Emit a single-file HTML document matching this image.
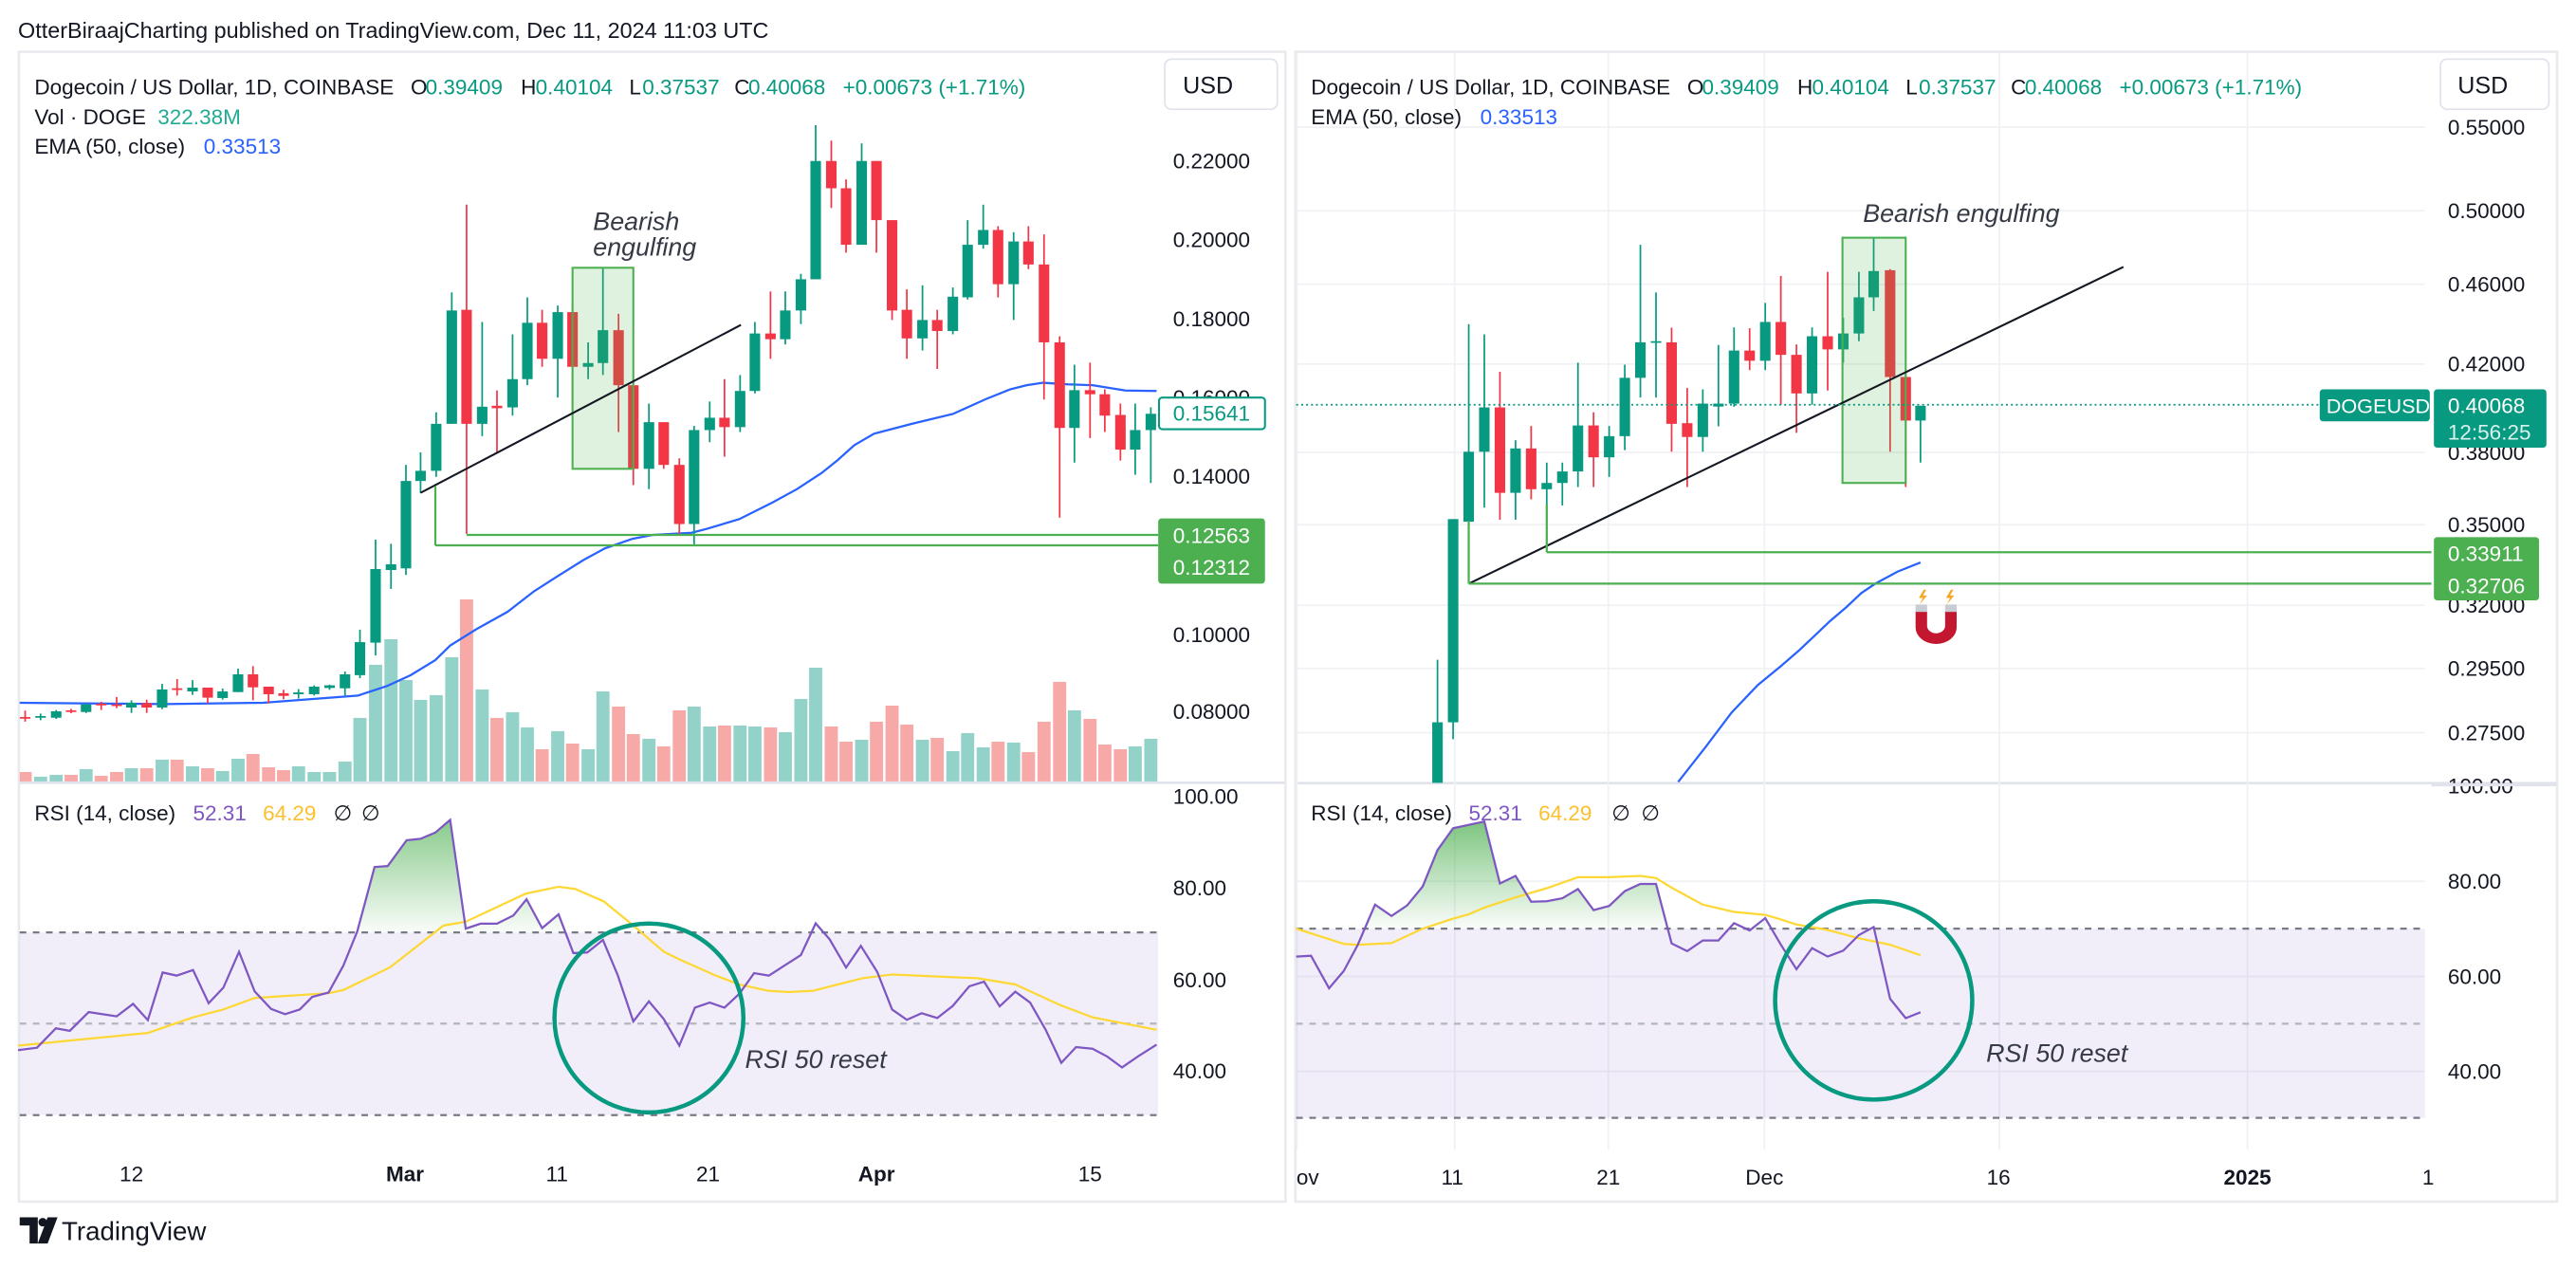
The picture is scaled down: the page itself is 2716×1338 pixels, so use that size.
<!DOCTYPE html>
<html><head><meta charset="utf-8"><style>
html,body{margin:0;padding:0;background:#fff}
svg{display:block}
text{font-family:"Liberation Sans",sans-serif}
</style></head><body>
<svg id="s" width="2716" height="1338" viewBox="0 0 1568 772.5" preserveAspectRatio="none" xmlns="http://www.w3.org/2000/svg">
<defs>
<linearGradient id="gl" x1="0" y1="490" x2="0" y2="568" gradientUnits="userSpaceOnUse"><stop offset="0" stop-color="#4caf50" stop-opacity="0.75"/><stop offset="1" stop-color="#4caf50" stop-opacity="0.03"/></linearGradient>
<linearGradient id="gr" x1="0" y1="498" x2="0" y2="565" gradientUnits="userSpaceOnUse"><stop offset="0" stop-color="#4caf50" stop-opacity="0.75"/><stop offset="1" stop-color="#4caf50" stop-opacity="0.03"/></linearGradient>
<clipPath id="cpl"><rect x="12" y="32" width="693" height="444"/></clipPath>
<clipPath id="cpr"><rect x="789" y="32" width="687" height="444.5"/></clipPath>
<clipPath id="cl70"><rect x="12" y="470" width="693" height="97.6"/></clipPath>
<clipPath id="cr70"><rect x="789" y="470" width="687" height="95.3"/></clipPath>
</defs>
<rect width="1568" height="772.5" fill="#fff"/>
<text x="11" y="23" font-size="13.5" fill="#131722">OtterBiraajCharting published on TradingView.com, Dec 11, 2024 11:03 UTC</text>
<!-- panel borders -->
<rect x="11.5" y="31.5" width="771" height="700" fill="none" stroke="#e9eaee" stroke-width="1.5"/>
<rect x="788.5" y="31.5" width="768" height="700" fill="none" stroke="#e9eaee" stroke-width="1.5"/>
<line x1="12" y1="476.5" x2="782" y2="476.5" stroke="#e0e3eb" stroke-width="1.5"/>
<line x1="789" y1="476.7" x2="1556" y2="476.7" stroke="#e0e3eb" stroke-width="1.5"/>
<g id="rgrid" stroke="#f0f1f4" stroke-width="1"></g>
<!-- RSI bands -->
<rect x="12" y="567.6" width="693" height="111.2" fill="#7e57c2" fill-opacity="0.1"/>
<rect x="789" y="565.3" width="687" height="115.2" fill="#7e57c2" fill-opacity="0.1"/>
<g stroke="#787b86" stroke-width="1.3" stroke-dasharray="4,4">
<line x1="12" y1="567.6" x2="705" y2="567.6"/><line x1="12" y1="678.8" x2="705" y2="678.8"/>
<line x1="789" y1="565.3" x2="1476" y2="565.3"/><line x1="789" y1="680.5" x2="1476" y2="680.5"/>
</g>
<g stroke="#b2b5be" stroke-width="1.3" stroke-dasharray="4,4">
<line x1="12" y1="623.1" x2="705" y2="623.1"/><line x1="789" y1="623.2" x2="1476" y2="623.2"/>
</g>
<g id="dyn"></g>
<!-- annotations left -->
<rect x="348.5" y="163" width="37" height="122.4" fill="#4caf50" fill-opacity="0.18" stroke="#4caf50" stroke-width="1.2"/>
<line x1="256" y1="300" x2="451" y2="197.8" stroke="#131722" stroke-width="1.2"/>
<g stroke="#4caf50" stroke-width="1.3">
<line x1="284" y1="325.6" x2="705" y2="325.6"/><line x1="265" y1="332" x2="705" y2="332"/>
<line x1="265" y1="296" x2="265" y2="332"/>
</g>
<text x="361" y="140" font-size="15.5" font-style="italic" fill="#363a45">Bearish</text>
<text x="361" y="155.5" font-size="15.5" font-style="italic" fill="#363a45">engulfing</text>
<!-- annotations right -->
<rect x="1121.5" y="144.7" width="38.5" height="149.3" fill="#4caf50" fill-opacity="0.18" stroke="#4caf50" stroke-width="1.2"/>
<line x1="894" y1="355.3" x2="1292.5" y2="162.5" stroke="#131722" stroke-width="1.2"/>
<g stroke="#4caf50" stroke-width="1.3">
<line x1="941.5" y1="336.2" x2="1480" y2="336.2"/><line x1="894" y1="355.3" x2="1480" y2="355.3"/>
<line x1="941.5" y1="307" x2="941.5" y2="336.2"/><line x1="894" y1="317" x2="894" y2="355.3"/>
</g>
<line x1="789" y1="246.4" x2="1412" y2="246.4" stroke="#089981" stroke-width="1" stroke-dasharray="1.2,1.8"/>
<text x="1134" y="135" font-size="15.5" font-style="italic" fill="#363a45">Bearish engulfing</text>
<!-- magnet -->
<path d="M1166 372 L1166 382 A12.5 10 0 0 0 1191 382 L1191 372 L1184 372 L1184 381 A5.5 4.5 0 0 1 1173 381 L1173 372 Z" fill="#c2172f"/>
<rect x="1166" y="368" width="7" height="4.5" fill="#c8ccd3"/><rect x="1184" y="368" width="7" height="4.5" fill="#c8ccd3"/>
<path d="M1171 359 L1168 364 L1170.5 364 L1168.5 368 L1173 362.5 L1170.5 362.5 L1172.5 359Z" fill="#f5a623"/>
<path d="M1187.5 359 L1184.5 364 L1187 364 L1185 368 L1189.5 362.5 L1187 362.5 L1189 359Z" fill="#f5a623"/>
<!-- circles -->
<circle cx="395" cy="619.7" r="57.5" fill="none" stroke="#089981" stroke-width="2.6"/>
<ellipse cx="1140.5" cy="609" rx="60" ry="60.4" fill="none" stroke="#089981" stroke-width="2.6"/>
<text x="453.5" y="650" font-size="15.5" font-style="italic" fill="#363a45">RSI 50 reset</text>
<text x="1209" y="646.5" font-size="15.5" font-style="italic" fill="#363a45">RSI 50 reset</text>
<!-- legends -->
<g font-size="13" fill="#131722">
<text x="21" y="57.5">Dogecoin / US Dollar, 1D, COINBASE<tspan x="250">O</tspan><tspan x="259" fill="#089981">0.39409</tspan><tspan x="317">H</tspan><tspan x="326" fill="#089981">0.40104</tspan><tspan x="383">L</tspan><tspan x="391" fill="#089981">0.37537</tspan><tspan x="447">C</tspan><tspan x="455.5" fill="#089981">0.40068</tspan><tspan x="513" fill="#089981">+0.00673 (+1.71%)</tspan></text>
<text x="21" y="75.5">Vol · DOGE<tspan x="96" fill="#22ab94">322.38M</tspan></text>
<text x="21" y="93.5">EMA (50, close)<tspan x="124" fill="#2962ff">0.33513</tspan></text>
<text x="798" y="57.5">Dogecoin / US Dollar, 1D, COINBASE<tspan x="1027">O</tspan><tspan x="1036" fill="#089981">0.39409</tspan><tspan x="1094">H</tspan><tspan x="1103" fill="#089981">0.40104</tspan><tspan x="1160">L</tspan><tspan x="1168" fill="#089981">0.37537</tspan><tspan x="1224">C</tspan><tspan x="1232.5" fill="#089981">0.40068</tspan><tspan x="1290" fill="#089981">+0.00673 (+1.71%)</tspan></text>
<text x="798" y="75.5">EMA (50, close)<tspan x="901" fill="#2962ff">0.33513</tspan></text>
<text x="21" y="499.5">RSI (14, close)<tspan x="117.5" fill="#7e57c2">52.31</tspan><tspan x="160" fill="#fbc02d">64.29</tspan><tspan x="203">∅</tspan><tspan x="220">∅</tspan></text>
<text x="798" y="499.5">RSI (14, close)<tspan x="894" fill="#7e57c2">52.31</tspan><tspan x="936.5" fill="#fbc02d">64.29</tspan><tspan x="981">∅</tspan><tspan x="999">∅</tspan></text>
</g>
<!-- USD buttons -->
<rect x="709" y="36" width="68.5" height="30.5" rx="4" fill="#fff" stroke="#e0e3eb"/>
<text x="720" y="57" font-size="14.5" fill="#131722">USD</text>
<rect x="1485.5" y="36" width="66" height="30.5" rx="4" fill="#fff" stroke="#e0e3eb"/>
<text x="1496" y="57" font-size="14.5" fill="#131722">USD</text>
<!-- axis labels -->
<g font-size="13" fill="#131722">
<text x="714" y="102.5">0.22000</text><text x="714" y="150.5">0.20000</text><text x="714" y="198.5">0.18000</text><text x="714" y="246.5">0.16000</text><text x="714" y="294.5">0.14000</text><text x="714" y="391">0.10000</text><text x="714" y="437.5">0.08000</text>
<text x="714" y="489.3">100.00</text><text x="714" y="545">80.00</text><text x="714" y="601">60.00</text><text x="714" y="656.5">40.00</text>
<text x="1490" y="82">0.55000</text><text x="1490" y="132.8">0.50000</text><text x="1490" y="177.5">0.46000</text><text x="1490" y="226">0.42000</text><text x="1490" y="280">0.38000</text><text x="1490" y="324">0.35000</text><text x="1490" y="373">0.32000</text><text x="1490" y="411.5">0.29500</text><text x="1490" y="450.5">0.27500</text>
<text x="1490" y="483">100.00</text><text x="1490" y="541">80.00</text><text x="1490" y="599">60.00</text><text x="1490" y="656.7">40.00</text>
</g>
<rect x="1480" y="476.7" width="76" height="2" fill="#e0e3eb"/>
<!-- price labels -->
<rect x="705.5" y="242" width="64.5" height="19.3" rx="2" fill="#fff" stroke="#089981" stroke-width="1.2"/>
<text x="714" y="256" font-size="13" fill="#089981">0.15641</text>
<rect x="705" y="315.6" width="65" height="39.7" rx="2" fill="#4caf50"/>
<text x="714" y="330.5" font-size="13" fill="#fff">0.12563</text>
<text x="714" y="350" font-size="13" fill="#fff">0.12312</text>
<rect x="1412" y="237" width="67" height="19.5" rx="2" fill="#089981"/>
<text x="1416" y="251.5" font-size="12.5" fill="#fff">DOGEUSD</text>
<rect x="1481.5" y="237" width="68.5" height="35.5" rx="2" fill="#089981"/>
<text x="1490" y="251.5" font-size="13" fill="#fff">0.40068</text>
<text x="1490" y="267.5" font-size="13" fill="#fff" fill-opacity="0.85">12:56:25</text>
<rect x="1481.5" y="327" width="64" height="38.5" rx="2" fill="#4caf50"/>
<text x="1490" y="341.5" font-size="13" fill="#fff">0.33911</text>
<text x="1490" y="361" font-size="13" fill="#fff">0.32706</text>
<!-- time axis -->
<g font-size="13" fill="#131722" text-anchor="middle">
<text x="80" y="719">12</text><text x="246.5" y="719" font-weight="bold">Mar</text><text x="339" y="719">11</text><text x="431" y="719">21</text><text x="533.5" y="719" font-weight="bold">Apr</text><text x="663.5" y="719">15</text>
<text x="796" y="721">ov</text><text x="884" y="721">11</text><text x="979" y="721">21</text><text x="1074" y="721">Dec</text><text x="1216.5" y="721">16</text><text x="1368" y="721" font-weight="bold">2025</text><text x="1478" y="721">1</text>
</g>
<!-- footer -->
<path d="M12 741 H23 V757 H18 V746 H12 Z" fill="#131722"/><circle cx="26" cy="744" r="2.6" fill="#131722"/><path d="M29 741 H35 L29 757 H23 Z" fill="#131722"/>
<text x="37.5" y="755" font-size="16" fill="#131722">TradingView</text>
</svg>
<script>
(function(){
var NS="http://www.w3.org/2000/svg",dyn=document.getElementById("dyn");
function el(t,a,p){var e=document.createElementNS(NS,t);for(var k in a)e.setAttribute(k,a[k]);(p||dyn).appendChild(e);return e;}
var G="#089981",R="#f23645";
// right grid
var rg=document.getElementById("rgrid");
[789.5,885.5,979,1074,1217,1368].forEach(function(x){el("line",{x1:x,y1:32,x2:x,y2:700},rg);});
[77.4,128.3,173,221.6,275.4,319.4,368.5,407,446,536.5,594.4,652.2].forEach(function(y){el("line",{x1:789,y1:y,x2:1476,y2:y},rg);});
// left volume
var vol=[[15.3,762,0],[24.7,777,1],[34.2,771,1],[43.3,771,0],[52.4,753,1],[61.6,774,0],[71,762,0],[80,750,1],[89.3,750,0],[98.7,723,1],[107.8,723,0],[117.2,744,1],[126.4,750,0],[135.5,759,1],[144.9,720,1],[154,705,0],[163.5,747,0],[172.6,756,0],[181.7,744,1],[191.2,762,1],[200.6,762,1],[210,729,1],[219.1,591,1],[228.6,423,1],[238,342,1],[247.1,471,1],[256,534,1],[265.5,519,1],[275,399,1],[284,216,0],[293.5,501,1],[302.5,591,0],[312,573,1],[321,621,1],[330,690,0],[339.5,633,1],[348.5,672,0],[358,690,1],[367,507,1],[376.5,555,0],[385.5,642,0],[395,657,1],[404,681,0],[413.5,567,0],[422.5,555,1],[432,618,1],[441,615,0],[450.5,615,1],[459.5,618,1],[469,621,0],[478,636,1],[487.5,531,1],[496.5,432,1],[506,618,0],[515,666,0],[524.5,660,1],[533.5,603,0],[543,552,0],[552,612,0],[561.5,660,1],[570.5,654,0],[580,696,1],[589,639,1],[598.5,684,1],[607.5,666,0],[617,669,1],[626,699,0],[635.5,603,0],[645,477,0],[654,567,1],[663.5,594,0],[672.5,675,0],[682,690,0],[691,681,1],[700.5,657,1]];
var gl=el("g",{"clip-path":"url(#cpl)"});
vol.forEach(function(v){var y=323.3+v[1]/5.196;el("rect",{x:v[0]-4,y:y,width:8,height:475.7-y,fill:v[2]?"#92d2c8":"#f7a9a7"},gl);});
// EMA left
el("polyline",{points:"11.8,427.8 100,428.6 160,427.8 218,423.4 235.6,417.6 250,411 265,401.8 274,393 290,383 309,372.4 325,360 338.7,351.2 355,341 368,333.9 385,328 397.6,325.6 421,324.3 430,322 450,316 470,306 485,297.8 500,288 510,280 520,271 532,264 555,258 580,252 600,243 615,237 625,234.5 635,233 650,234 665,234.5 685,237.7 704,238",fill:"none",stroke:"#2962ff","stroke-width":1.3},gl);
function candles(arr,par){arr.forEach(function(c){var col=c[5]?G:R;el("line",{x1:c[0],y1:c[3],x2:c[0],y2:c[4],stroke:col,"stroke-width":1},par);el("rect",{x:c[0]-3.2,y:c[1],width:6.4,height:Math.max(c[2]-c[1],1),fill:col},par);});}
var L=[[15.3,436.5,437.4,432.6,439.3,0],[24.7,435.9,436.7,434.4,438.4,1],[34.2,433,436.9,432.2,437.6,1],[43.3,432.4,433.4,431.5,434.2,0],[52.4,428.8,433.4,428,434,1],[61.6,428.4,429.2,427.2,432.2,0],[71,428.8,429.7,424.3,431.1,0],[80,427.8,430.7,426.3,434,1],[89.3,428,430.7,425.9,434,0],[98.7,419.7,430.7,416.3,431.7,1],[107.8,419,420,413.4,423.4,0],[117.2,418.6,420.9,414,423,1],[126.4,418.6,424.7,418.6,428.2,0],[135.5,420.9,424.9,419.1,425.9,1],[144.9,410.5,421.3,407,421.3,1],[154,410.5,418.4,405.5,426.3,0],[163.5,418,422.6,418,428.2,0],[172.6,422,423.6,419.9,425.7,0],[181.7,421.5,422.6,419.5,425.3,1],[191.2,418,422.6,417.2,423.4,1],[200.6,417.2,418.8,416.8,419.9,1],[210,410.5,419,408.8,423.4,1],[219.1,390.9,411,383.3,412.8,1],[228.6,346.4,391.2,328.5,399,1],[238,343.5,347,331,358.5,1],[247.1,292.8,346,283,350,1],
[256,286.6,292.8,275.4,300.2,1],[265.5,258,286.6,251,290.3,1],[275,189,258,178,258,1],[284,188.6,258,124.6,325,0],[293.5,247.6,258,196,265.5,1],[302.5,247,248.5,237.7,275.4,0],[312,230.8,248,203.5,253,1],[321,196.5,230.8,181,234.5,1],[330,196.5,218.4,188.6,223.3,0],[339.5,190,218.4,186,242,1],[348.5,190,223.3,186,248,0],[358,221,223.3,208.4,230.8,1],[367,201,221,163,228.3,1],[376.5,201,234.5,191,263,0],[385.5,234.5,285.4,230.8,295.3,0],[395,257,285.4,245.7,297.8,1],[404,257,283,257,285.4,0],[413.5,283,319,279,325,0],[422.5,261.8,319,259.3,331.3,1],[432,254.3,261.8,244.4,269.2,1],[441,254.3,260,230.8,278,0],[450.5,238,260,228.3,263,1],[459.5,203,238,196,239.5,1],[469,203,206.5,177.4,218.4,0],[478,189,206.5,177.4,209.7,1],[487.5,170,189,166.7,197.3,1],[496.5,98,170,76.2,170,1],[506,98,114.6,85.6,126.6,0],[515,114.6,149,109.2,153.8,0],[524.5,98,149,87.3,149,1],[533.5,98,134,98,153.8,0],[543,134,189,134,194.8,0],[552,188.6,206,176.2,218.4,0],[561.5,194.8,206,173.7,213.4,1],[570.5,194.8,201.5,188.6,224.6,0],[580,180.6,201.5,175,203.5,1],[589,149,181,134,182.4,1],[598.5,140,149,124.6,151.4,1],[607.5,140,173,137.7,181.1,0],[617,147,173,141.4,194.8,1],[626,147,161,137.7,163.8,0],[635.5,161,208.4,142.7,243.2,0],[645,208.4,260.5,204.7,315.1,0],[654,237.5,260.5,222,281.6,1],[663.5,237.5,240,220.8,266.7,0],[672.5,240,253,237,263,0],[682,252.6,273.7,245.7,280.4,0],[691,261.8,273.7,245.7,289,1],[700.5,251.9,261.8,248,294,1]];
candles(L,gl);
// right
var gr=el("g",{"clip-path":"url(#cpr)"});
el("polyline",{points:"1021.5,476 1038,455 1054,433.8 1070,417 1084,405.5 1095,396 1104,387.5 1114,378 1124,369.5 1133,361 1141.5,355.3 1155,348 1169,342.4",fill:"none",stroke:"#2962ff","stroke-width":1.3},gr);
var Rc=[[875,439.7,477,401.6,477,1],[884.5,316,439.7,316,450,1],[894,275,317.6,197.3,317.6,1],[903.5,248,275,203.5,309,1],[913,248,300,226.3,316.4,0],[922.5,273,300,268,316.4,1],[932,273,297.8,259.3,304,0],[941.5,294,297.8,281.6,307.7,1],[951,287,294,281.6,307.7,1],[960.5,259,287,220.8,296.5,1],[970,259,278.4,251,296.5,0],[979.5,265.5,278.4,259.3,290.3,1],[989,230,265.5,222,274,1],[998.5,208.4,230,149,242,1],[1008,207.7,208.6,178,242,1],[1017.5,208.4,258,199.5,275,0],[1027,257.6,266,236.2,296.5,0],[1036.5,245.7,266,237,275,1],[1046,245.7,247.5,210,259.5,1],[1055.5,213.4,245.7,199.3,247.6,1],[1065,213.4,219.6,199.8,225.3,0],[1074.5,196,219.6,184.4,225.3,1],[1084,196,216,168,246.4,0],[1093.5,216,239.5,209.7,263.5,0],[1103,204.7,239.5,199.3,246.4,1],[1112.5,204.7,212.7,165.5,237.7,0],[1122,203,212.7,193.5,220.8,1],[1131.5,181,203,165.5,207.7,1],[1140.5,165,181,144.7,189.3,1],[1150.5,164.5,229.5,163.8,275,0],[1160,229.5,256,225,296.5,0],[1169,247,256,247,281.6,1]];
candles(Rc,gr);
// RSI left
function pts(a,fx,fy){return a.map(function(p){return fx(p[0]).toFixed(1)+","+fy(p[1]).toFixed(1);});}
var lx=function(x){return x/2;},ly=function(y){return 473.4+y/5.243;};
var rl=[[22,870],[45,862],[68,800],[85,808],[108,748],[142,762],[162,722],[180,774],[198,622],[215,632],[235,614],[254,720],[272,670],[291,556],[310,682],[330,738],[347,755],[365,740],[380,700],[400,686],[418,600],[435,490],[456,285],[472,282],[495,200],[512,195],[530,175],[548,135],[567,482],[585,466],[605,466],[625,440],[641,388],[660,480],[680,436],[698,560],[715,558],[734,518],[752,630],[771,778],[790,714],[808,770],[827,855],[846,734],[864,718],[882,734],[900,690],[918,624],[936,632],[955,600],[975,566],[993,465],[1010,516],[1030,606],[1048,537],[1068,620],[1086,740],[1104,773],[1122,752],[1141,767],[1160,728],[1180,666],[1198,651],[1217,730],[1236,683],[1254,718],[1273,805],[1292,910],[1310,860],[1330,865],[1348,890],[1366,925],[1385,890],[1408,852]];
var yl=[[22,855],[100,835],[180,815],[235,765],[272,740],[310,703],[347,697],[400,688],[418,678],[475,605],[540,472],[567,460],[640,370],[680,348],[700,355],[735,395],[770,470],[808,555],[827,580],[870,630],[900,660],[935,680],[960,684],[990,680],[1050,640],[1086,628],[1190,640],[1236,660],[1290,725],[1330,765],[1408,805]];
var p1=pts(rl,lx,ly);
el("polygon",{points:p1.join(" ")+" 704,567.6 11,567.6",fill:"url(#gl)","clip-path":"url(#cl70)"});
el("polyline",{points:pts(yl,lx,ly).join(" "),fill:"none",stroke:"#fdd835","stroke-width":1.3});
el("polyline",{points:p1.join(" "),fill:"none",stroke:"#7e57c2","stroke-width":1.3});
// RSI right
var rx=function(x){return 784+x/2;},ry=function(y){return 369.5+y/3.891;};
var rr=[[10,828],[28,826],[50,903],[68,862],[85,800],[106,705],[126,732],[145,707],[164,662],[182,576],[201,524],[239,508],[258,655],[277,637],[296,698],[315,697],[334,690],[353,668],[372,718],[391,708],[410,673],[429,656],[448,656],[467,797],[486,815],[505,790],[524,790],[543,749],[562,766],[581,737],[600,800],[619,858],[638,808],[657,828],[676,814],[695,777],[713,758],[733,928],[752,974],[770,960]];
var yr=[[10,762],[68,798],[85,800],[126,796],[164,762],[201,738],[220,728],[239,712],[277,688],[315,666],[353,640],[391,640],[429,637],[448,642],[467,665],[505,705],[543,722],[581,729],[600,740],[619,752],[657,765],[695,785],[733,800],[770,825]];
var p2=pts(rr,rx,ry);
el("polygon",{points:p2.join(" ")+" 1169,565.3 789,565.3",fill:"url(#gr)","clip-path":"url(#cr70)"});
el("polyline",{points:pts(yr,rx,ry).join(" "),fill:"none",stroke:"#fdd835","stroke-width":1.3});
el("polyline",{points:p2.join(" "),fill:"none",stroke:"#7e57c2","stroke-width":1.3});
})();
</script>
</body></html>
